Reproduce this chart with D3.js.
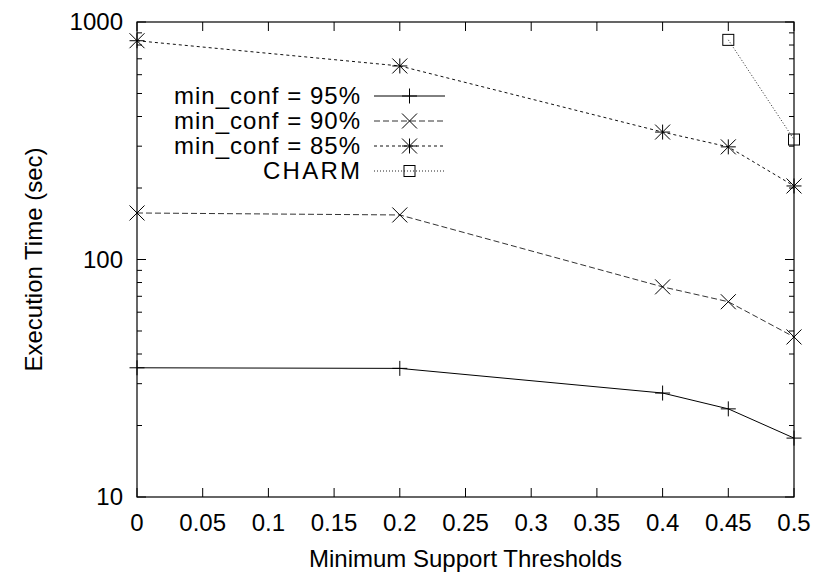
<!DOCTYPE html>
<html>
<head>
<meta charset="utf-8">
<script src="https://cdn.jsdelivr.net/npm/d3@7"></script>
<style>
  body { margin: 0; background: #fff; }
  text { font-family: "Liberation Sans", Arial, sans-serif; fill: #000; }
</style>
</head>
<body>
<svg id="chart" width="814" height="573"></svg>
<script>
// support thresholds (x) and times in seconds (y)
const thresholds = [0, 0.2, 0.4, 0.45, 0.5];
const conf95 = [35, 34.8, 27.4, 23.5, 17.7];
const conf90 = [157, 154, 76.7, 66.4, 47.2];
const conf85 = [834, 653, 344, 298, 204];
const charmX = [0.45, 0.5];
const charmY = [841, 320];
const xTicks = [0, 0.05, 0.1, 0.15, 0.2, 0.25, 0.3, 0.35, 0.4, 0.45, 0.5];
const yTicks = [10, 100, 1000];
const seriesNames = ["min_conf = 95%", "min_conf = 90%", "min_conf = 85%", "CHARM"];

let svg = d3.select("#chart");
let pLeft = 137, pRight = 794, pTop = 22, pBottom = 497;

let x = d3.scaleLinear().domain([0, 0.5]).range([pLeft, pRight]);
let y = d3.scaleLog().domain([10, 1000]).range([pBottom, pTop]);

// minor ticks on log axis
let minor = [];
[10, 100].forEach(d => { for (let k = 2; k <= 9; k++) minor.push(d * k); });

let g = svg.append("g");

// ticks, inward, mirrored
let ax = g.append("g").attr("stroke", "#000").attr("stroke-width", 1);
xTicks.forEach(t => {
    ax.append("line").attr("x1", x(t)).attr("x2", x(t)).attr("y1", pBottom).attr("y2", pBottom - 9);
    ax.append("line").attr("x1", x(t)).attr("x2", x(t)).attr("y1", pTop).attr("y2", pTop + 9);
});
yTicks.forEach(t => {
    ax.append("line").attr("x1", pLeft).attr("x2", pLeft + 9).attr("y1", y(t)).attr("y2", y(t));
    ax.append("line").attr("x1", pRight).attr("x2", pRight - 9).attr("y1", y(t)).attr("y2", y(t));
});
minor.forEach(t => {
    ax.append("line").attr("x1", pLeft).attr("x2", pLeft + 5).attr("y1", y(t)).attr("y2", y(t));
    ax.append("line").attr("x1", pRight).attr("x2", pRight - 5).attr("y1", y(t)).attr("y2", y(t));
});
g.append("rect").attr("x", pLeft).attr("y", pTop).attr("width", pRight - pLeft).attr("height", pBottom - pTop)
    .attr("fill", "none").attr("stroke", "#000").attr("stroke-width", 1.2);

// tick labels
g.selectAll(".xl").data(xTicks).enter().append("text")
    .attr("x", d => x(d)).attr("y", pBottom + 34).attr("text-anchor", "middle")
    .style("font-size", "24px").text(d => d);
g.selectAll(".yl").data(yTicks).enter().append("text")
    .attr("x", pLeft - 14).attr("y", d => y(d) + 8).attr("text-anchor", "end")
    .style("font-size", "24px").text(d => d);

// axis titles
g.append("text").attr("x", (pLeft + pRight) / 2).attr("y", pBottom + 70).attr("text-anchor", "middle")
    .style("font-size", "24px").text("Minimum Support Thresholds");
g.append("text").attr("transform", "translate(42," + ((pTop + pBottom) / 2) + ") rotate(-90)")
    .attr("text-anchor", "middle").style("font-size", "24px").text("Execution Time (sec)");

// markers
function marker(sel, type, cx, cy) {
    let m = sel.append("g").attr("transform", "translate(" + cx + "," + cy + ")")
        .attr("stroke", "#000").attr("stroke-width", 1).attr("fill", "none");
    let s = 7.5;
    if (type === "plus" || type === "star") {
        m.append("line").attr("x1", -s).attr("x2", s).attr("y1", 0).attr("y2", 0);
        m.append("line").attr("x1", 0).attr("x2", 0).attr("y1", -s).attr("y2", s);
    }
    if (type === "cross" || type === "star") {
        m.append("line").attr("x1", -s).attr("x2", s).attr("y1", -s).attr("y2", s);
        m.append("line").attr("x1", -s).attr("x2", s).attr("y1", s).attr("y2", -s);
    }
    if (type === "box") {
        m.append("rect").attr("x", -5.5).attr("y", -5.5).attr("width", 11).attr("height", 11);
    }
}

let series = [
    {xs: thresholds, ys: conf95, dash: null, marker: "plus", color: "#000"},
    {xs: thresholds, ys: conf90, dash: "6,3", marker: "cross", color: "#333"},
    {xs: thresholds, ys: conf85, dash: "3,3", marker: "star", color: "#111"},
    {xs: charmX, ys: charmY, dash: "1,2", marker: "box", color: "#222"}
];

let line = d3.line().x(d => x(d[0])).y(d => y(d[1]));

series.forEach(s => {
    let pts = s.xs.map((v, i) => [v, s.ys[i]]);
    g.append("path").attr("d", line(pts)).attr("fill", "none")
        .attr("stroke", s.color).attr("stroke-width", 1)
        .attr("stroke-dasharray", s.dash);
    pts.forEach(p => marker(g, s.marker, x(p[0]), y(p[1])));
});

// legend
let leg = g.append("g");
series.forEach((s, i) => {
    let ly = 96 + i * 25;
    leg.append("text").attr("x", 360).attr("y", ly + 8).attr("text-anchor", "end")
        .style("font-size", "24px").attr("textLength", i < 3 ? 186 : 97).text(seriesNames[i]);
    leg.append("line").attr("x1", 374).attr("x2", 445).attr("y1", ly).attr("y2", ly)
        .attr("stroke", s.color).attr("stroke-width", 1).attr("stroke-dasharray", s.dash);
    marker(leg, s.marker, 409.5, ly);
});
</script>
</body>
</html>
